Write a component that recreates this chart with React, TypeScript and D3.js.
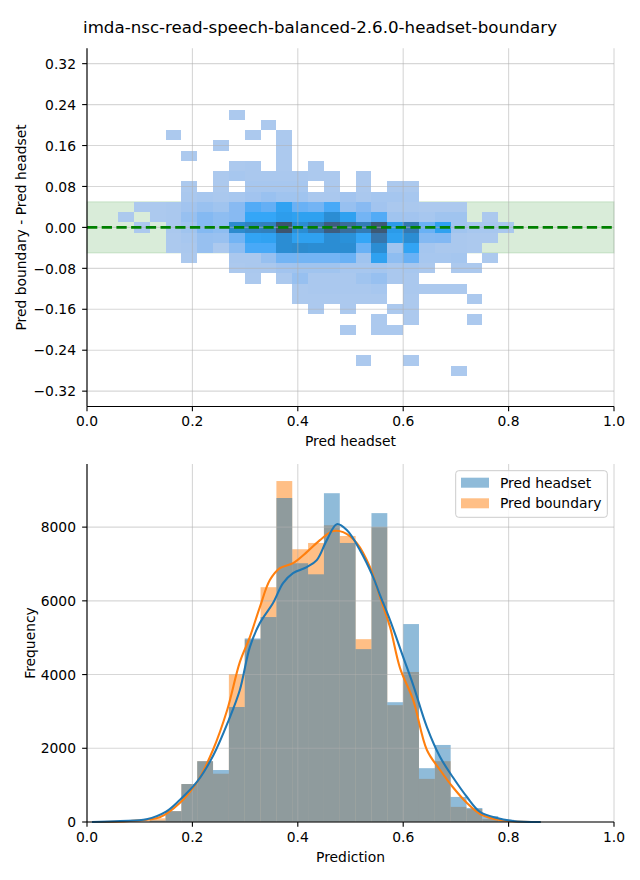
import React from "react";
import * as d3 from "d3";

// ---------------- data ----------------
const chartTitle = "imda-nsc-read-speech-balanced-2.6.0-headset-boundary";
const xTicks = [0, 0.2, 0.4, 0.6, 0.8, 1.0];
const diffTicks = [-0.32, -0.24, -0.16, -0.08, 0, 0.08, 0.16, 0.24, 0.32];
const freqTicks = [0, 2000, 4000, 6000, 8000];

// prediction bins (shared by the 2D and 1D histograms)
const binStart = 0.0588;
const binWidth = 0.03006;
const binCount = 25;

// difference bins (centres), height 0.02
const diffBinCenters = [
  0.22, 0.2, 0.18, 0.16, 0.14, 0.12, 0.1, 0.08, 0.06, 0.04, 0.02, 0, -0.02, -0.04,
  -0.06, -0.08, -0.1, -0.12, -0.14, -0.16, -0.18, -0.2, -0.22, -0.24, -0.26, -0.28,
];
const diffBinHeight = 0.02;

// 2D histogram counts (relative), rows follow diffBinCenters, columns the prediction bins
const heatCounts = [
  [0, 0, 0, 0, 0, 0, 0, 1, 0, 0, 0, 0, 0, 0, 0, 0, 0, 0, 0, 0, 0, 0, 0, 0, 0],
  [0, 0, 0, 0, 0, 0, 0, 0, 0, 1, 0, 0, 0, 0, 0, 0, 0, 0, 0, 0, 0, 0, 0, 0, 0],
  [0, 0, 0, 1, 0, 0, 0, 0, 1, 0, 1, 0, 0, 0, 0, 0, 0, 0, 0, 0, 0, 0, 0, 0, 0],
  [0, 0, 0, 0, 0, 0, 1, 0, 0, 0, 1, 0, 0, 0, 0, 0, 0, 0, 0, 0, 0, 0, 0, 0, 0],
  [0, 0, 0, 0, 1, 0, 0, 0, 0, 0, 1, 0, 0, 0, 0, 0, 0, 0, 0, 0, 0, 0, 0, 0, 0],
  [0, 0, 0, 0, 0, 0, 0, 1, 2, 0, 1, 0, 1, 0, 0, 0, 0, 0, 0, 0, 0, 0, 0, 0, 0],
  [0, 0, 0, 0, 0, 0, 1, 3, 2, 2, 2, 2, 1, 1, 0, 1, 0, 0, 0, 0, 0, 0, 0, 0, 0],
  [0, 0, 0, 0, 1, 0, 1, 0, 3, 3, 3, 3, 0, 1, 0, 1, 0, 1, 1, 0, 0, 0, 0, 0, 0],
  [0, 0, 0, 0, 2, 3, 2, 3, 5, 8, 6, 6, 2, 2, 5, 2, 4, 4, 3, 0, 0, 0, 0, 0, 0],
  [0, 1, 1, 2, 5, 8, 6, 14, 28, 24, 36, 23, 20, 30, 9, 14, 5, 2, 2, 1, 1, 1, 0, 0, 0],
  [1, 0, 1, 2, 9, 15, 12, 14, 33, 33, 40, 37, 37, 53, 37, 20, 28, 6, 5, 3, 6, 6, 0, 1, 0],
  [0, 1, 0, 2, 6, 15, 12, 55, 62, 64, 100, 53, 69, 92, 80, 67, 96, 42, 69, 23, 37, 6, 3, 3, 2],
  [0, 0, 0, 1, 3, 9, 8, 20, 35, 36, 53, 37, 37, 53, 50, 33, 71, 37, 53, 15, 16, 2, 1, 1, 0],
  [0, 0, 0, 1, 2, 9, 1, 12, 30, 30, 53, 55, 53, 53, 53, 23, 53, 6, 35, 4, 2, 2, 1, 0, 0],
  [0, 0, 0, 0, 1, 0, 0, 2, 2, 9, 20, 20, 20, 20, 23, 6, 37, 12, 23, 3, 3, 4, 0, 1, 0],
  [0, 0, 0, 0, 0, 0, 0, 1, 2, 2, 5, 6, 6, 6, 3, 3, 4, 2, 3, 1, 0, 1, 1, 0, 0],
  [0, 0, 0, 0, 0, 0, 0, 0, 1, 0, 1, 9, 2, 2, 2, 6, 9, 2, 2, 0, 0, 0, 0, 0, 0],
  [0, 0, 0, 0, 0, 0, 0, 0, 0, 0, 0, 1, 2, 2, 2, 2, 3, 0, 2, 1, 1, 1, 0, 0, 0],
  [0, 0, 0, 0, 0, 0, 0, 0, 0, 0, 0, 1, 1, 1, 1, 1, 1, 0, 1, 0, 0, 0, 1, 0, 0],
  [0, 0, 0, 0, 0, 0, 0, 0, 0, 0, 0, 0, 1, 0, 1, 0, 0, 1, 1, 0, 0, 0, 0, 0, 0],
  [0, 0, 0, 0, 0, 0, 0, 0, 0, 0, 0, 0, 0, 0, 0, 0, 1, 0, 1, 0, 0, 0, 1, 0, 0],
  [0, 0, 0, 0, 0, 0, 0, 0, 0, 0, 0, 0, 0, 0, 1, 0, 1, 1, 0, 0, 0, 0, 0, 0, 0],
  [0, 0, 0, 0, 0, 0, 0, 0, 0, 0, 0, 0, 0, 0, 0, 0, 0, 0, 0, 0, 0, 0, 0, 0, 0],
  [0, 0, 0, 0, 0, 0, 0, 0, 0, 0, 0, 0, 0, 0, 0, 0, 0, 0, 0, 0, 0, 0, 0, 0, 0],
  [0, 0, 0, 0, 0, 0, 0, 0, 0, 0, 0, 0, 0, 0, 0, 1, 0, 0, 1, 0, 0, 0, 0, 0, 0],
  [0, 0, 0, 0, 0, 0, 0, 0, 0, 0, 0, 0, 0, 0, 0, 0, 0, 0, 0, 0, 0, 1, 0, 0, 0],
];

// 1D histograms
const headsetCounts = [
  0, 5, 40, 295, 1030, 1650, 1410, 3120, 4980, 5560, 8790, 7020, 6720, 8920, 7570, 4690,
  8380, 3250, 5370, 1460, 2090, 680, 380, 160, 60,
];
const boundaryCounts = [
  0, 10, 100, 295, 1030, 1650, 1310, 4010, 4950, 6370, 9250, 7400, 7570, 8050, 7760, 4960,
  8000, 3170, 4070, 1170, 1650, 410, 350, 80, 20,
];

// KDE curves (scaled to counts)
const headsetKde: [number, number][] = [
  [0.0095, 0], [0.063, 27], [0.113, 73], [0.15, 280], [0.176, 597], [0.209, 1093],
  [0.24, 1817], [0.269, 2766], [0.29, 3580], [0.309, 4746], [0.328, 5397], [0.353, 5939],
  [0.372, 6481], [0.391, 6753], [0.417, 6915], [0.436, 7105], [0.455, 7647], [0.474, 8081],
  [0.493, 7919], [0.518, 7376], [0.543, 6644], [0.556, 6156], [0.575, 5478], [0.6, 4475],
  [0.619, 3715], [0.645, 2576], [0.67, 1763], [0.694, 1220], [0.721, 678], [0.746, 271],
  [0.778, 108], [0.808, 27], [0.861, 0],
];
const boundaryKde: [number, number][] = [
  [0.0095, 0], [0.082, 27], [0.139, 136], [0.176, 515], [0.209, 1085], [0.239, 1953],
  [0.266, 3037], [0.29, 4339], [0.309, 5017], [0.328, 5831], [0.347, 6563], [0.366, 6888],
  [0.391, 7024], [0.417, 7322], [0.442, 7647], [0.467, 7892], [0.486, 7864], [0.512, 7566],
  [0.537, 6915], [0.556, 6102], [0.575, 5288], [0.594, 4176], [0.619, 3308], [0.645, 1953],
  [0.67, 1410], [0.694, 949], [0.721, 515], [0.746, 217], [0.784, 54], [0.861, 0],
];

const seriesNames = ["Pred headset", "Pred boundary"];

// ---------------- seaborn-like sequential colormap (HUSL) ----------------
const M = [
  [3.240969941904521, -1.537383177570093, -0.498610760293],
  [-0.96924363628087, 1.87596750150772, 0.041555057407175],
  [0.055630079696993, -0.20397695888897, 1.056971514242878],
];
const MINV = [
  [0.41239079926595, 0.35758433938387, 0.18048078840183],
  [0.21263900587151, 0.71516867876775, 0.072192315360733],
  [0.019330818715591, 0.11919477979462, 0.95053215224966],
];
const REF_U = 0.19783000664283;
const REF_V = 0.46831999493879;
const KAPPA = 903.2962962;
const EPS = 0.0088564516;

function boundsFor(L: number) {
  const sub1 = Math.pow(L + 16, 3) / 1560896;
  const sub2 = sub1 > EPS ? sub1 : L / KAPPA;
  const out: [number, number][] = [];
  for (const [m1, m2, m3] of M) {
    for (const t of [0, 1]) {
      const top1 = (284517 * m1 - 94839 * m3) * sub2;
      const top2 = (838422 * m3 + 769860 * m2 + 731718 * m1) * L * sub2 - 769860 * t * L;
      const bottom = (632260 * m3 - 126452 * m2) * sub2 + 126452 * t;
      out.push([top1 / bottom, top2 / bottom]);
    }
  }
  return out;
}
function maxChroma(L: number, H: number) {
  const hr = (H / 360) * 2 * Math.PI;
  let min = Infinity;
  for (const [m, b] of boundsFor(L)) {
    const len = b / (Math.sin(hr) - m * Math.cos(hr));
    if (len >= 0) min = Math.min(min, len);
  }
  return min;
}
const fromLinear = (c: number) => (c <= 0.0031308 ? 12.92 * c : 1.055 * Math.pow(c, 1 / 2.4) - 0.055);
const toLinear = (c: number) => (c > 0.04045 ? Math.pow((c + 0.055) / 1.055, 2.4) : c / 12.92);

function huslToRgb(h: number, s: number, l: number) {
  if (l > 99.9999999) return [1, 1, 1];
  if (l < 1e-8) return [0, 0, 0];
  const c = (maxChroma(l, h) / 100) * s;
  const hr = (h / 180) * Math.PI;
  const U = c * Math.cos(hr);
  const V = c * Math.sin(hr);
  const varU = U / (13 * l) + REF_U;
  const varV = V / (13 * l) + REF_V;
  const Y = l <= 8 ? l / KAPPA : Math.pow((l + 16) / 116, 3);
  const X = 0 - (9 * Y * varU) / ((varU - 4) * varV - varU * varV);
  const Z = (9 * Y - 15 * varV * Y - varV * X) / (3 * varV);
  return M.map((r) => Math.min(1, Math.max(0, fromLinear(r[0] * X + r[1] * Y + r[2] * Z))));
}
function rgbToHusl(r: number, g: number, b: number) {
  const lin = [r, g, b].map(toLinear);
  const [X, Y, Z] = MINV.map((row) => row[0] * lin[0] + row[1] * lin[1] + row[2] * lin[2]);
  const L = Y <= EPS ? Y * KAPPA : 116 * Math.cbrt(Y) - 16;
  const d = X + 15 * Y + 3 * Z;
  const U = 13 * L * ((4 * X) / d - REF_U);
  const V = 13 * L * ((9 * Y) / d - REF_V);
  const C = Math.hypot(U, V);
  let H = (Math.atan2(V, U) * 180) / Math.PI;
  if (H < 0) H += 360;
  return [H, (C / maxChroma(L, H)) * 100, L];
}
function buildCmap(hex: string) {
  const c = d3.rgb(hex);
  const [h, s] = rgbToHusl(c.r / 255, c.g / 255, c.b / 255);
  const nx = Math.floor(1.15 * 256);
  const cols: string[] = [];
  for (let k = 0; k < 256; k++) {
    const xx = -1 + (2 * k) / (nx - 1);
    const l = 35 + (45 * k) / 255;
    const [r, g, b] = huslToRgb(h, s * Math.cos(xx), l);
    cols.push(d3.rgb(r * 255, g * 255, b * 255).formatHex());
  }
  return cols.reverse();
}
const cmapColors = buildCmap("#1f77b4");

// ---------------- layout ----------------
const W = 640;
const H = 880;
const left = 87;
const right = 614;
const top1 = 48.3;
const bottom1 = 406.5;
const top2 = 464;
const bottom2 = 822;
const FONT = "DejaVu Sans";
const TICK = 4.86;

const C0 = "#1f77b4";
const C1 = "#ff7f0e";

export default function App() {
  const x = d3.scaleLinear().domain([0, 1]).range([left, right]);
  const yDiff = d3.scaleLinear().domain([-0.35, 0.35]).range([bottom1, top1]);
  const maxCount = d3.max([...headsetCounts, ...boundaryCounts]) as number;
  const yFreq = d3.scaleLinear().domain([0, maxCount * 1.05]).range([bottom2, top2]);

  const edges = d3.range(binCount + 1).map((k) => binStart + k * binWidth);

  const flat = heatCounts.flat().filter((v) => v > 0);
  const vmin = d3.min(flat) as number;
  const vmax = d3.max(flat) as number;
  const colorOf = (v: number) => {
    const t = (v - vmin) / (vmax - vmin);
    const idx = Math.max(0, Math.min(255, Math.floor(t * 256)));
    return cmapColors[idx];
  };

  const fmt2 = d3.format(".2f");
  const fmt1 = d3.format(".1f");
  const fmtInt = d3.format("d");

  const kdeLine = d3
    .line<[number, number]>()
    .x((d) => x(d[0]))
    .y((d) => yFreq(d[1]))
    .curve(d3.curveCatmullRom.alpha(0.5));

  const gridColor = "#b0b0b0";

  const xAxis = (yBase: number, key: string) => (
    <g key={key}>
      {xTicks.map((t) => (
        <g key={t}>
          <line x1={x(t)} x2={x(t)} y1={yBase} y2={yBase + TICK} stroke="#000" strokeWidth={1.11} />
          <text x={x(t)} y={yBase + 19.5} textAnchor="middle" fontSize={13.89} fontFamily={FONT} fill="#000">
            {fmt1(t)}
          </text>
        </g>
      ))}
    </g>
  );

  return (
    <svg
      width={W}
      height={H}
      style={{ position: "absolute", left: 0, top: 0, background: "#fff" }}
      xmlns="http://www.w3.org/2000/svg"
    >
      <rect x={0} y={0} width={W} height={H} fill="#fff" />
      <text x={320} y={32.5} textAnchor="middle" fontSize={16.67} fontFamily={FONT} fill="#000">
        {chartTitle}
      </text>

      {/* ---------- top panel ---------- */}
      <rect
        x={x(0)}
        y={yDiff(0.05)}
        width={x(1) - x(0)}
        height={yDiff(-0.05) - yDiff(0.05)}
        fill="green"
        fillOpacity={0.15}
        stroke="green"
        strokeOpacity={0.15}
        strokeWidth={1}
      />
      <g shapeRendering="crispEdges">
        {heatCounts.map((row, r) =>
          row.map((v, c) =>
            v > 0 ? (
              <rect
                key={`${r}-${c}`}
                x={x(edges[c])}
                y={yDiff(diffBinCenters[r] + diffBinHeight / 2)}
                width={x(edges[c + 1]) - x(edges[c])}
                height={yDiff(diffBinCenters[r] - diffBinHeight / 2) - yDiff(diffBinCenters[r] + diffBinHeight / 2)}
                fill={colorOf(v)}
              />
            ) : null
          )
        )}
      </g>
      <g stroke={gridColor} strokeOpacity={0.5} strokeWidth={1.11}>
        {xTicks.map((t) => (
          <line key={`gx${t}`} x1={x(t)} x2={x(t)} y1={top1} y2={bottom1} />
        ))}
        {diffTicks.map((t) => (
          <line key={`gy${t}`} x1={left} x2={right} y1={yDiff(t)} y2={yDiff(t)} />
        ))}
      </g>
      <line
        x1={x(0)}
        x2={x(1)}
        y1={yDiff(0)}
        y2={yDiff(0)}
        stroke="green"
        strokeWidth={2.78}
        strokeDasharray="10.3,4.4"
      />
      <line x1={left} x2={left} y1={top1} y2={bottom1} stroke="#000" strokeWidth={1.11} />
      <line x1={left} x2={right} y1={bottom1} y2={bottom1} stroke="#000" strokeWidth={1.11} />
      {diffTicks.map((t) => (
        <g key={`ty${t}`}>
          <line x1={left - TICK} x2={left} y1={yDiff(t)} y2={yDiff(t)} stroke="#000" strokeWidth={1.11} />
          <text x={left - 11} y={yDiff(t) + 5.2} textAnchor="end" fontSize={13.89} fontFamily={FONT} fill="#000">
            {fmt2(t)}
          </text>
        </g>
      ))}
      {xAxis(bottom1, "xa1")}
      <text x={(left + right) / 2} y={446} textAnchor="middle" fontSize={13.89} fontFamily={FONT} fill="#000">
        Pred headset
      </text>
      <text
        transform={`translate(26,${(top1 + bottom1) / 2}) rotate(-90)`}
        textAnchor="middle"
        fontSize={13.89}
        fontFamily={FONT}
        fill="#000"
      >
        Pred boundary - Pred headset
      </text>

      {/* ---------- bottom panel ---------- */}
      <g>
        {boundaryCounts.map((v, i) =>
          v > 0 ? (
            <rect
              key={`b${i}`}
              x={x(edges[i])}
              y={yFreq(v)}
              width={x(edges[i + 1]) - x(edges[i])}
              height={yFreq(0) - yFreq(v)}
              fill={C1}
              fillOpacity={0.5}
            />
          ) : null
        )}
        {headsetCounts.map((v, i) =>
          v > 0 ? (
            <rect
              key={`h${i}`}
              x={x(edges[i])}
              y={yFreq(v)}
              width={x(edges[i + 1]) - x(edges[i])}
              height={yFreq(0) - yFreq(v)}
              fill={C0}
              fillOpacity={0.5}
            />
          ) : null
        )}
      </g>
      <g stroke={gridColor} strokeOpacity={0.5} strokeWidth={1.11}>
        {xTicks.map((t) => (
          <line key={`gx2${t}`} x1={x(t)} x2={x(t)} y1={top2} y2={bottom2} />
        ))}
        {freqTicks.map((t) => (
          <line key={`gy2${t}`} x1={left} x2={right} y1={yFreq(t)} y2={yFreq(t)} />
        ))}
      </g>
      <path d={kdeLine(boundaryKde) || ""} fill="none" stroke={C1} strokeWidth={2.08} />
      <path d={kdeLine(headsetKde) || ""} fill="none" stroke={C0} strokeWidth={2.08} />
      <line x1={left} x2={left} y1={top2} y2={bottom2} stroke="#000" strokeWidth={1.11} />
      <line x1={left} x2={right} y1={bottom2} y2={bottom2} stroke="#000" strokeWidth={1.11} />
      {freqTicks.map((t) => (
        <g key={`tf${t}`}>
          <line x1={left - TICK} x2={left} y1={yFreq(t)} y2={yFreq(t)} stroke="#000" strokeWidth={1.11} />
          <text x={left - 11} y={yFreq(t) + 5.2} textAnchor="end" fontSize={13.89} fontFamily={FONT} fill="#000">
            {fmtInt(t)}
          </text>
        </g>
      ))}
      {xAxis(bottom2, "xa2")}
      <text x={(left + right) / 2} y={861.5} textAnchor="middle" fontSize={13.89} fontFamily={FONT} fill="#000">
        Prediction
      </text>
      <text
        transform={`translate(35,${(top2 + bottom2) / 2}) rotate(-90)`}
        textAnchor="middle"
        fontSize={13.89}
        fontFamily={FONT}
        fill="#000"
      >
        Frequency
      </text>

      {/* legend */}
      <g>
        <rect x={455.7} y={470.7} width={151.6} height={46.6} rx={3} fill="#fff" fillOpacity={0.8} stroke="#cccccc" strokeWidth={1} />
        {seriesNames.map((name, i) => (
          <g key={name}>
            <rect x={461} y={477.7 + i * 20.6} width={28} height={10} fill={i === 0 ? C0 : C1} fillOpacity={0.5} />
            <text x={500} y={487.7 + i * 20.6} fontSize={13.89} fontFamily={FONT} fill="#000">
              {name}
            </text>
          </g>
        ))}
      </g>
    </svg>
  );
}
